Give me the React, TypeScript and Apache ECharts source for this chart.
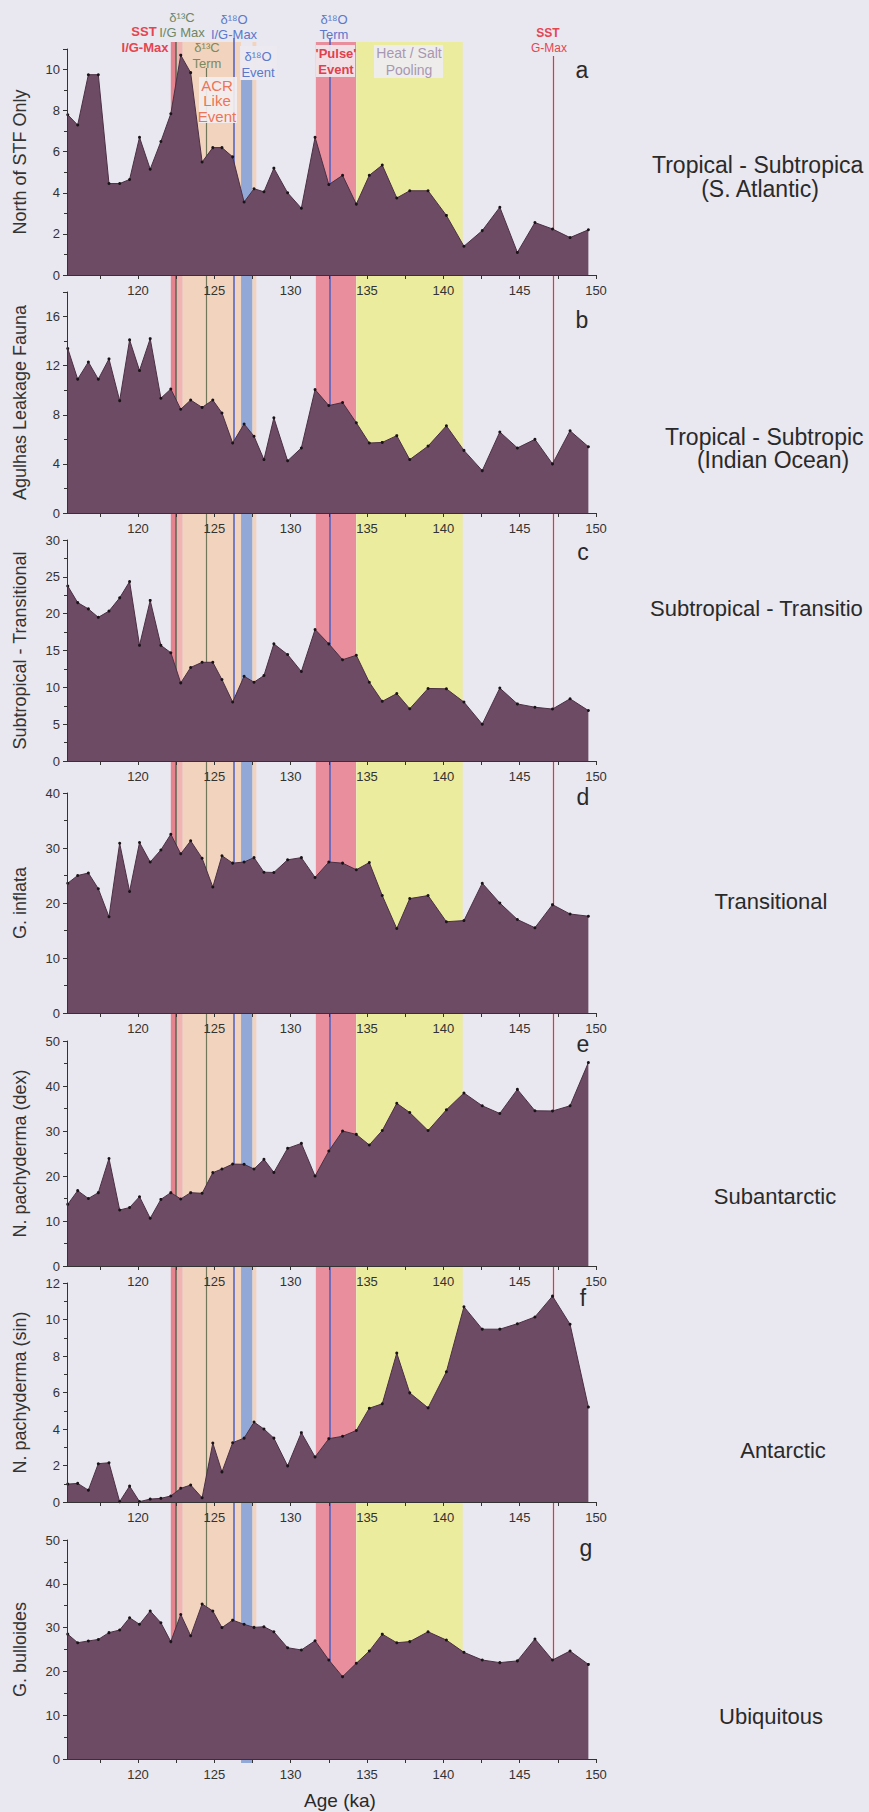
import { useEffect, useRef } from "react";
import * as echarts from "echarts";

// ---------------- DATA ----------------
// Sample ages (ka) shared by all panels
const ages = [115.4, 116.05, 116.75, 117.4, 118.1, 118.8, 119.45, 120.1, 120.8, 121.5, 122.15, 122.8, 123.45, 124.2, 124.9, 125.5, 126.2, 126.95, 127.6, 128.25, 128.9, 129.8, 130.7, 131.6, 132.5, 133.4, 134.3, 135.15, 136.0, 136.95, 137.8, 139.0, 140.2, 141.35, 142.55, 143.7, 144.85, 146.0, 147.15, 148.3, 149.5];

const northOfSTF = [7.8, 7.3, 9.75, 9.75, 4.45, 4.45, 4.65, 6.7, 5.15, 6.5, 7.85, 10.7, 9.85, 5.5, 6.2, 6.2, 5.75, 3.55, 4.2, 4.05, 5.2, 4.0, 3.25, 6.7, 4.4, 4.85, 3.45, 4.85, 5.35, 3.75, 4.1, 4.1, 2.9, 1.4, 2.16, 3.3, 1.1, 2.55, 2.24, 1.82, 2.2];
const agulhasLeakage = [13.4, 10.9, 12.3, 10.9, 12.55, 9.15, 14.1, 11.6, 14.2, 9.35, 10.1, 8.45, 9.2, 8.6, 9.2, 8.15, 5.7, 7.25, 6.25, 4.35, 7.75, 4.25, 5.3, 10.05, 8.75, 9.0, 7.35, 5.7, 5.75, 6.3, 4.35, 5.45, 7.1, 5.1, 3.45, 6.6, 5.3, 6.0, 4.0, 6.7, 5.4];
const subtropTransitional = [23.75, 21.5, 20.65, 19.5, 20.35, 22.15, 24.35, 15.7, 21.8, 15.7, 14.7, 10.6, 12.7, 13.4, 13.4, 11.05, 8.0, 11.5, 10.7, 11.6, 15.9, 14.45, 12.15, 17.85, 15.9, 13.75, 14.35, 10.7, 8.1, 9.15, 7.1, 9.85, 9.8, 8.0, 5.0, 9.9, 7.75, 7.3, 7.05, 8.45, 6.85];
const gInflata = [23.6, 25.0, 25.45, 22.6, 17.5, 30.85, 22.1, 31.0, 27.45, 29.65, 32.5, 28.95, 31.3, 28.15, 22.9, 28.6, 27.25, 27.45, 28.25, 25.6, 25.55, 27.85, 28.25, 24.65, 27.45, 27.25, 26.05, 27.35, 21.35, 15.35, 20.8, 21.35, 16.6, 16.8, 23.6, 20.0, 17.0, 15.5, 19.7, 18.0, 17.6];
const nPachyDex = [13.7, 16.75, 15.0, 16.3, 23.9, 12.45, 13.0, 15.4, 10.6, 14.8, 16.3, 14.9, 16.3, 16.15, 20.75, 21.55, 22.65, 22.6, 21.55, 23.7, 20.8, 26.15, 27.25, 20.0, 25.55, 30.0, 29.25, 26.9, 30.1, 36.15, 34.1, 30.1, 34.7, 38.45, 35.6, 33.9, 39.25, 34.5, 34.45, 35.6, 45.2];
const nPachySin = [0.98, 1.02, 0.65, 2.1, 2.15, 0.02, 0.87, 0.02, 0.16, 0.2, 0.33, 0.75, 0.93, 0.23, 3.23, 1.65, 3.25, 3.5, 4.38, 4.0, 3.5, 1.98, 3.8, 2.47, 3.47, 3.6, 3.92, 5.14, 5.38, 8.16, 5.98, 5.16, 7.14, 10.7, 9.47, 9.47, 9.77, 10.14, 11.28, 9.74, 5.2];
const gBulloides = [28.5, 26.55, 26.95, 27.3, 28.85, 29.45, 32.25, 30.75, 33.8, 31.1, 26.8, 33.0, 28.15, 35.4, 33.8, 30.0, 31.7, 30.75, 30.05, 30.2, 29.05, 25.4, 24.9, 27.0, 22.6, 18.8, 21.85, 24.65, 28.5, 26.55, 26.8, 29.05, 27.15, 24.35, 22.6, 22.0, 22.4, 27.4, 22.6, 24.65, 21.6];

const panelValues = [northOfSTF, agulhasLeakage, subtropTransitional, gInflata, nPachyDex, nPachySin, gBulloides];
const panelAxisNames = ["North of STF Only", "Agulhas Leakage Fauna", "Subtropical - Transitional", "G. inflata", "N. pachyderma (dex)", "N. pachyderma (sin)", "G. bulloides"];
const panelLetters = ["a", "b", "c", "d", "e", "f", "g"];
const yMaxima = [11, 18, 30, 40, 50, 12, 50];
const yIntervals = [2, 4, 5, 10, 10, 2, 10];

const xMin = 115.35;
const xMax = 150;
const xLabelValues = [120, 125, 130, 135, 140, 145, 150];
const xTickValues = [117.5, 120, 122.5, 125, 127.5, 130, 132.5, 135, 137.5, 140, 142.5, 145, 147.5, 150];

// Event bands (ka)
const bandNames = ["SST I/G-Max", "SST I/G-Max overlap", "ACR Like Event", "δ18O Event", "ACR Like Event edge", "'Pulse' Event", "Heat / Salt Pooling"];
const bandStarts = [122.15, 122.5, 122.93, 126.75, 127.5, 131.65, 134.3];
const bandEnds = [122.5, 122.93, 126.75, 127.5, 127.75, 134.28, 141.27];
// Event lines (ka)
const lineNames = ["δ13C I/G Max", "δ13C Term", "δ18O I/G-Max", "δ18O Term", "SST G-Max"];
const lineAges = [122.47, 124.5, 126.3, 132.55, 147.2];

// Faunal group labels (as visible at the right edge of the page)
const faunalGroups = ["Tropical - Subtropica", "(S. Atlantic)", "Tropical - Subtropic", "(Indian Ocean)", "Subtropical - Transitio", "Transitional", "Subantarctic", "Antarctic", "Ubiquitous"];

// ---------------- STYLE / LAYOUT ----------------
const FONT = '"Liberation Sans", Arial, "DejaVu Sans", sans-serif';
const BG = "#e9e7ef";
const AREA = "#6d4b64";
const AXIS = "#333";
const GRID_LEFT = 67;
const GRID_WIDTH = 529;
const panelLayout = [
  { top: 49, height: 226 },
  { top: 292, height: 221 },
  { top: 540, height: 221 },
  { top: 793, height: 220 },
  { top: 1041, height: 225 },
  { top: 1283, height: 219 },
  { top: 1540, height: 219 },
];
const OVERLAY_TOP = 38;
const OVERLAY_HEIGHT = 1726;
const bandColors = ["#e5848f", "#f0b4b2", "#f2d3bd", "#92a9d8", "#f2d3bd", "#e88e9c", "#ecec9f"];
const bandTops = [42, 42, 42, 80, 42, 42, 42];
const bandBottoms = [1760, 1760, 1760, 1763, 1760, 1760, 1760];
const lineColors = ["#5d6550", "#72765a", "#4b5fc2", "#4b5fc2", "#e4343d"];
const lineWidths = [1.5, 1.2, 1.5, 1.5, 1.2];
const lineTops = [42, 68, 38, 38, 56];
const letterPos = [[582, 70], [582, 320], [583, 552], [583, 797], [583, 1044], [583, 1298], [586, 1548]];
// [x, y, align, fontSize]
const groupPos: [number, number, string, number][] = [
  [652, 165, "left", 23],
  [760, 189, "center", 23],
  [665, 437, "left", 23],
  [773, 460, "center", 23],
  [650, 608, "left", 22],
  [771, 901, "center", 22],
  [775, 1196, "center", 22],
  [783, 1450, "center", 22],
  [771, 1716, "center", 22],
];

type Lbl = { t: string; x: number; y: number; c: string; s: number; b?: boolean };
const topLabels: Lbl[] = [
  { t: "SST", x: 144, y: 31, c: "#e5454f", s: 13, b: true },
  { t: "I/G-Max", x: 145, y: 47, c: "#e5454f", s: 13, b: true },
  { t: "δ¹³C", x: 182, y: 17, c: "#6d8764", s: 13 },
  { t: "I/G Max", x: 182, y: 32, c: "#6d8764", s: 13 },
  { t: "δ¹³C", x: 207, y: 47, c: "#7a8a60", s: 13 },
  { t: "Term", x: 207, y: 63, c: "#7a8a60", s: 13 },
  { t: "δ¹⁸O", x: 234, y: 19, c: "#5a78cc", s: 13 },
  { t: "I/G-Max", x: 234, y: 34, c: "#5a78cc", s: 13 },
  { t: "δ¹⁸O", x: 258, y: 56, c: "#5a78cc", s: 13 },
  { t: "Event", x: 258, y: 72, c: "#5a78cc", s: 13 },
  { t: "ACR", x: 217, y: 85, c: "#ee7456", s: 15 },
  { t: "Like", x: 217, y: 100, c: "#ee7456", s: 15 },
  { t: "Event", x: 217, y: 116, c: "#ee7456", s: 15 },
  { t: "δ¹⁸O", x: 334, y: 19, c: "#5a78cc", s: 13 },
  { t: "Term", x: 334, y: 34, c: "#5a78cc", s: 13 },
  { t: "'Pulse'", x: 336, y: 53, c: "#e0404c", s: 13, b: true },
  { t: "Event", x: 336, y: 69, c: "#e0404c", s: 13, b: true },
  { t: "Heat / Salt", x: 409, y: 53, c: "#a897b2", s: 14 },
  { t: "Pooling", x: 409, y: 70, c: "#a897b2", s: 14 },
  { t: "SST", x: 548, y: 33, c: "#e5454f", s: 12, b: true },
  { t: "G-Max", x: 549, y: 48, c: "#e5454f", s: 12 },
];
const labelBoxes = [
  { x: 199, y: 77, w: 38, h: 46, c: "#f3eef0" },
  { x: 240, y: 46, w: 37, h: 34, c: "#ebe9f1" },
  { x: 316, y: 45, w: 39, h: 32, c: "#f1e8ee" },
  { x: 374, y: 45, w: 69, h: 33, c: "#eeedf2" },
];

export default function App() {
  const ref = useRef<HTMLDivElement>(null);
  useEffect(() => {
    document.body.style.margin = "0";
    const chart = echarts.init(ref.current!, undefined, { renderer: "svg" });

    const grid: any[] = panelLayout.map((l) => ({ left: GRID_LEFT, width: GRID_WIDTH, top: l.top, height: l.height }));
    grid.push({ left: GRID_LEFT, width: GRID_WIDTH, top: OVERLAY_TOP, height: OVERLAY_HEIGHT });

    const xAxis: any[] = panelLayout.map((_, i) => ({
      type: "value",
      gridIndex: i,
      min: xMin,
      max: xMax,
      z: 3,
      axisLine: { show: true, onZero: false, lineStyle: { color: AXIS, width: 1 } },
      axisTick: { show: true, customValues: xTickValues, length: 4, lineStyle: { color: AXIS } },
      axisLabel: { customValues: xLabelValues, fontSize: 13, color: AXIS, margin: 9, fontFamily: FONT },
      splitLine: { show: false },
    }));
    xAxis.push({ type: "value", gridIndex: 7, min: xMin, max: xMax, show: false });

    const yAxis: any[] = panelLayout.map((_, i) => ({
      type: "value",
      gridIndex: i,
      min: 0,
      max: yMaxima[i],
      interval: yIntervals[i],
      z: 3,
      name: panelAxisNames[i],
      nameLocation: "middle",
      nameGap: 38,
      nameTextStyle: { fontSize: 18, color: AXIS, fontFamily: FONT },
      axisLine: { show: true, lineStyle: { color: AXIS, width: 1 } },
      axisTick: { show: true, length: 4, lineStyle: { color: AXIS } },
      minorTick: { show: true, splitNumber: 2, length: 3, lineStyle: { color: AXIS } },
      axisLabel: {
        fontSize: 13,
        color: AXIS,
        margin: 7,
        fontFamily: FONT,
        formatter: (v: number) => (Math.abs(v % yIntervals[i]) < 1e-9 ? String(v) : ""),
      },
      splitLine: { show: false },
    }));
    yAxis.push({ type: "value", gridIndex: 7, min: 0, max: OVERLAY_HEIGHT, inverse: true, show: false });

    const series: any[] = panelValues.map((vals, i) => ({
      type: "line",
      name: panelAxisNames[i],
      xAxisIndex: i,
      yAxisIndex: i,
      data: ages.map((a, k) => [a, vals[k]]),
      z: 2,
      silent: true,
      symbol: "circle",
      symbolSize: 3,
      showSymbol: true,
      itemStyle: { color: "#1a1418" },
      lineStyle: { color: "#4b3044", width: 1 },
      areaStyle: { color: AREA, opacity: 1 },
    }));

    series.push({
      type: "line",
      name: "events",
      xAxisIndex: 7,
      yAxisIndex: 7,
      data: [],
      z: 1,
      silent: true,
      markArea: {
        silent: true,
        z: 1,
        label: { show: false },
        data: bandNames.map((n, i) => [
          { name: n, xAxis: bandStarts[i], yAxis: bandTops[i] - OVERLAY_TOP, itemStyle: { color: bandColors[i], opacity: 1, borderWidth: 0 } },
          { xAxis: bandEnds[i], yAxis: bandBottoms[i] - OVERLAY_TOP },
        ]),
      },
      markLine: {
        silent: true,
        z: 1.5,
        symbol: ["none", "none"],
        label: { show: false },
        data: lineNames.map((n, i) => [
          { name: n, coord: [lineAges[i], lineTops[i] - OVERLAY_TOP], lineStyle: { color: lineColors[i], width: lineWidths[i], type: "solid" } },
          { coord: [lineAges[i], 1760 - OVERLAY_TOP] },
        ]),
      },
    });

    const graphic: any[] = [];
    labelBoxes.forEach((b) =>
      graphic.push({ type: "rect", z: 10, shape: { x: b.x, y: b.y, width: b.w, height: b.h }, style: { fill: b.c, opacity: 0.92 } })
    );
    topLabels.forEach((l) =>
      graphic.push({
        type: "text",
        z: 11,
        x: l.x,
        y: l.y,
        style: { text: l.t, fill: l.c, fontSize: l.s, fontWeight: l.b ? "bold" : "normal", fontFamily: FONT, textAlign: "center", textVerticalAlign: "middle" },
      })
    );
    panelLetters.forEach((t, i) =>
      graphic.push({
        type: "text",
        z: 11,
        x: letterPos[i][0],
        y: letterPos[i][1],
        style: { text: t, fill: "#2a2a2a", fontSize: 23, fontFamily: FONT, textAlign: "center", textVerticalAlign: "middle" },
      })
    );
    faunalGroups.forEach((t, i) =>
      graphic.push({
        type: "text",
        z: 11,
        x: groupPos[i][0],
        y: groupPos[i][1],
        style: { text: t, fill: "#2a2a2a", fontSize: groupPos[i][3], fontFamily: FONT, textAlign: groupPos[i][2], textVerticalAlign: "middle" },
      })
    );
    graphic.push({
      type: "text",
      z: 11,
      x: 340,
      y: 1800,
      style: { text: "Age (ka)", fill: "#2a2a2a", fontSize: 19, fontFamily: FONT, textAlign: "center", textVerticalAlign: "middle" },
    });

    chart.setOption({
      animation: false,
      backgroundColor: BG,
      grid,
      xAxis,
      yAxis,
      series,
      graphic,
    });
    return () => chart.dispose();
  }, []);

  return (
    <div
      ref={ref}
      style={{ position: "absolute", left: 0, top: 0, width: 869, height: 1812, overflow: "hidden" }}
    />
  );
}
